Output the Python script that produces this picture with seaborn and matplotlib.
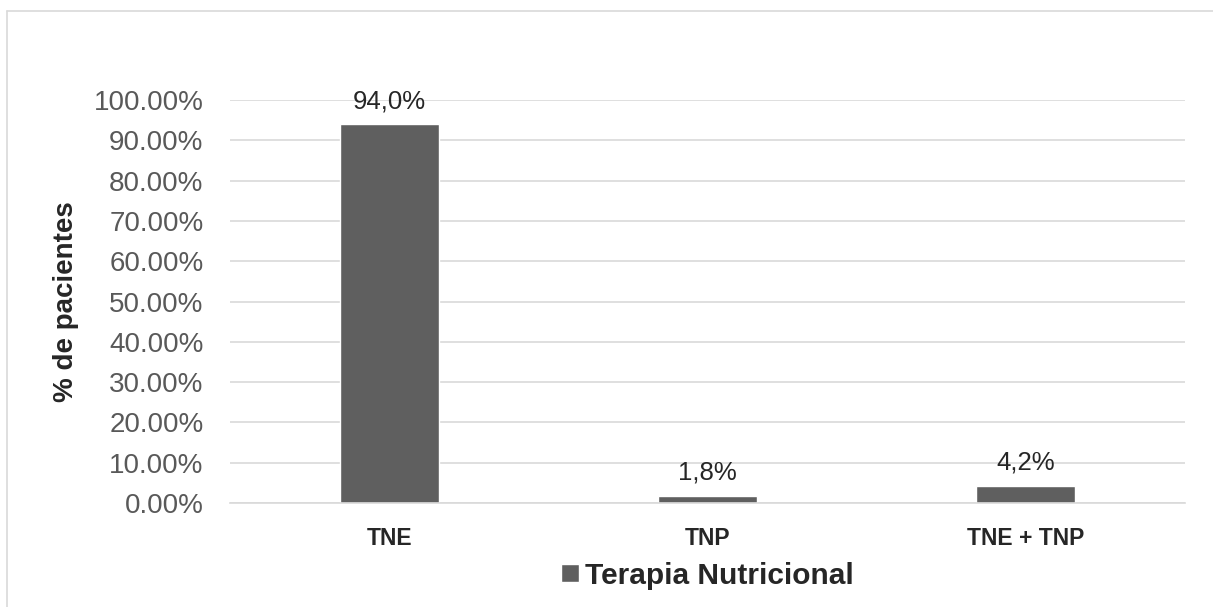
import matplotlib
matplotlib.use("Agg")
import matplotlib.pyplot as plt
import seaborn as sns
import pandas as pd
from matplotlib.lines import Line2D
from matplotlib.ticker import FuncFormatter

categories = ["TNE", "TNP", "TNE + TNP"]
values = [94.0, 1.8, 4.2]
bar_labels = ["94,0%", "1,8%", "4,2%"]

df = pd.DataFrame({"terapia": categories, "pct": values})

sns.set_style("white")
plt.rcParams["font.family"] = ["Liberation Sans", "DejaVu Sans"]

fig = plt.figure(figsize=(12.13, 6.07), dpi=100)
ax = fig.add_axes([230 / 1213, 1 - 503 / 607, 955 / 1213, 403 / 607])

sns.barplot(data=df, x="terapia", y="pct", color="#5f5f5f", saturation=1,
            width=0.31, ax=ax, label="Terapia Nutricional")

ax.set_ylim(0, 100)
ax.set_yticks(range(0, 101, 10))
ax.yaxis.set_major_formatter(FuncFormatter(lambda v, p: f"{v:.2f}%"))
ax.grid(axis="y", color="#d9d9d9", linewidth=1.2)
ax.set_axisbelow(True)
for s in ["top", "right", "left"]:
    ax.spines[s].set_visible(False)
ax.spines["bottom"].set_color("#d9d9d9")
ax.spines["bottom"].set_linewidth(1.2)
ax.tick_params(axis="y", labelsize=20, labelcolor="#595959", length=0, pad=19)
ax.tick_params(axis="x", labelsize=16.5, length=0, pad=17)
for t in ax.get_xticklabels():
    t.set_fontweight("bold")

for container in ax.containers:
    ax.bar_label(container, labels=bar_labels, fontsize=18.5, padding=8)

ax.set_xlabel("")
ax.set_ylabel("% de pacientes", fontsize=20, fontweight="bold", labelpad=10.5)

ax.legend(loc="center", bbox_to_anchor=(0.5, -0.18), frameon=False,
          prop={"size": 21.5, "weight": "bold"}, handlelength=0.6,
          handleheight=0.6, handletextpad=0.2)

# outer chart frame (only top and left edges are visible in the crop)
fig.add_artist(Line2D([7 / 1213, 1.0], [1 - 11 / 607] * 2,
                      transform=fig.transFigure, color="#d9d9d9", linewidth=1.2))
fig.add_artist(Line2D([7 / 1213] * 2, [0.0, 1 - 11 / 607],
                      transform=fig.transFigure, color="#d9d9d9", linewidth=1.2))

fig.savefig("out.png", dpi=100)
